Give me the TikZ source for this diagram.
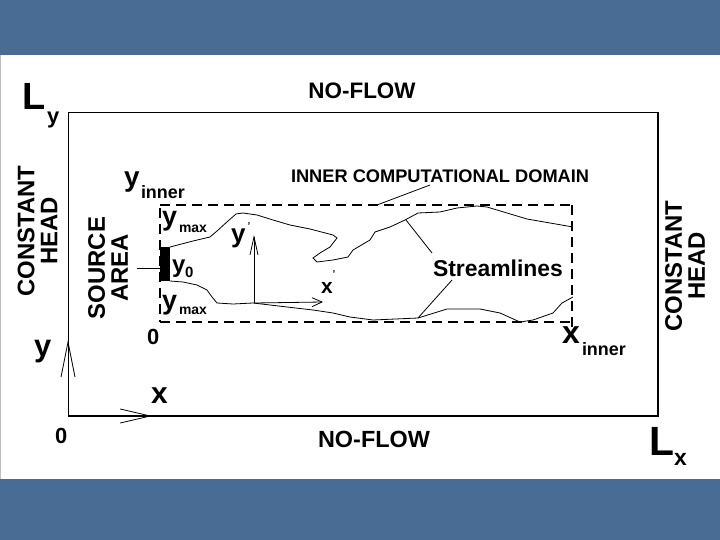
\documentclass[tikz,border=0pt]{standalone}
\usepackage{fontspec}
\setmainfont{Liberation Sans}
\usetikzlibrary{arrows.meta}
\definecolor{band}{RGB}{73,108,148}
\begin{document}
\begin{tikzpicture}[x=1bp,y=-1bp,
  every node/.style={inner sep=0pt, outer sep=0pt},
  fs/.style={font={\fontsize{#1}{#1}\selectfont\bfseries}},
  lb/.style={anchor=base west},
  twolines/.style={font={\fontsize{#1}{23}\selectfont\bfseries}, align=center, rotate=90},
  thinline/.style={line width=0.8bp},
  dombox/.style={line width=1.4bp, dash pattern=on 10bp off 6bp},
  barb/.style={-{Straight Barb[length=#1, width=14bp]}}]
\useasboundingbox (0,0) rectangle (720,540);
\fill[white] (0,0) rectangle (720,540);
\fill[band] (0,0) rectangle (720,55);
\fill[band] (0,479) rectangle (720,540);
\draw[black!25, line width=0.6bp] (0.5,55) -- (0.5,479);

% outer domain
\coordinate (O) at (68,416);
\coordinate (TL) at (68,113);
\coordinate (TR) at (658,113);
\coordinate (BR) at (658,416);
\draw[line width=1bp] (BR) -- (TR) -- (TL) -- (O);
\draw[line width=1.8bp] (O) -- (BR) -- (TR);
\coordinate (ytip) at (68,340);
\coordinate (xtip) at (152,416);
\draw[thinline, barb=35bp] (O) -- (ytip);
\draw[thinline, barb=30bp] (O) -- (xtip);

% inner domain
\coordinate (iBL) at (160,322);
\coordinate (iTL) at (160,205);
\coordinate (iTR) at (572,205);
\coordinate (iBR) at (572,322);
\draw[dombox] (iTL) -- (iTR);
\draw[dombox] (iBL) -- (iBR);
\draw[dombox] (160,208) -- (iBL);
\draw[dombox] (iTR) -- (572,328);

% source bar
\node[fill=black, minimum width=10bp, minimum height=34bp, anchor=north west] (bar) at (160,247) {};
\coordinate (srcl) at (137,268);
\draw[thinline] (srcl) -- (bar.west |- srcl);

% inner axes
\coordinate (io) at (254,303);
\coordinate (iy) at (254,235);
\coordinate (ix) at (323,302);
\draw[thinline, -{Straight Barb[length=18bp, width=8bp]}] (io) -- (iy);
\draw[thinline, -{Straight Barb[length=10bp, width=9bp]}] (io) -- (ix);

% streamlines
\draw[thinline] (bar.north east) -- (193,241) -- (210,237) -- (217,231) -- (228,221) -- (236,214) -- (243,213) -- (257,215) -- (273,220) -- (290,225) -- (310,229) -- (333,235) -- (337,238) -- (330,247) -- (320,253) -- (313,258) -- (317,262) -- (333,260) -- (348,257) -- (353,250) -- (370,240) -- (375,232) -- (390,227) -- (405,220) -- (418,213) -- (440,212) -- (457,208) -- (477,206) -- (487,207) -- (507,213) -- (527,219) -- (550,223) -- (573,227);
\draw[thinline] (bar.south east) -- (183,282) -- (197,285) -- (207,290) -- (212,297) -- (217,303) -- (233,304) -- (253,303) -- (287,307) -- (313,310) -- (333,313) -- (350,317) -- (373,320) -- (418,318) -- (447,309) -- (480,309) -- (500,313) -- (520,322) -- (533,320) -- (553,313) -- (562,303) -- (573,297);

% leaders
\coordinate (dl1) at (430,185);
\coordinate (dl2) at (377,205);
\draw[thinline] (dl1) -- (dl2);
\coordinate (sl1) at (432,253);
\coordinate (sl2) at (406,220);
\coordinate (sl3) at (452,280);
\coordinate (sl4) at (418,318);
\draw[thinline] (sl1) -- (sl2);
\draw[thinline] (sl3) -- (sl4);

% labels
\node[lb, fs=38] (Ly) at (22,110) {L};
\node[lb, fs=22] (Lysub) at (47,124) {y};
\node[lb, fs=41] (Lx) at (649,455) {L};
\node[lb, fs=23] (Lxsub) at (674,465) {x};
\node[anchor=base, fs=22.5] (nftop) at (362,99) {NO-FLOW};
\node[anchor=base, fs=23.5] (nfbot) at (374,447) {NO-FLOW};
\node[twolines=24] (chl) at (37.5,231) {CONSTANT\\HEAD};
\node[twolines=24] (chr) at (685,266) {CONSTANT\\HEAD};
\node[twolines=24] (src) at (108,268) {SOURCE\\AREA};
\node[lb, fs=28] (yin) at (124,187) {y};
\node[lb, fs=18] (yinsub) at (141,199) {inner};
\node[lb, fs=18.3] (dom) at (291,183) {INNER COMPUTATIONAL DOMAIN};
\node[lb, fs=27] (ym1) at (162,226) {y};
\node[lb, fs=14] (ym1s) at (179,233) {max};
\node[lb, fs=24] (y0) at (172,273) {y};
\node[lb, fs=15] (y0s) at (185,278) {0};
\node[lb, fs=27] (ym2) at (162,309) {y};
\node[lb, fs=14] (ym2s) at (179,314) {max};
\node[lb, fs=26] (yp) at (231,243) {y};
\node[fs=10] (ypp) at (249,226) {'};
\node[lb, fs=21] (xp) at (321,293) {x};
\node[fs=10] (xpp) at (334,274) {'};
\node[lb, fs=31] (yax) at (34,356) {y};
\node[lb, fs=30] (xax) at (151,403) {x};
\node[lb, fs=22] (zo) at (55,443) {0};
\node[lb, fs=22] (zi) at (147,344) {0};
\node[lb, fs=23] (stl) at (433,277) {Streamlines};
\node[lb, fs=32] (xin) at (562,343) {x};
\node[lb, fs=18] (xinsub) at (582,355) {inner};
\end{tikzpicture}
\end{document}
